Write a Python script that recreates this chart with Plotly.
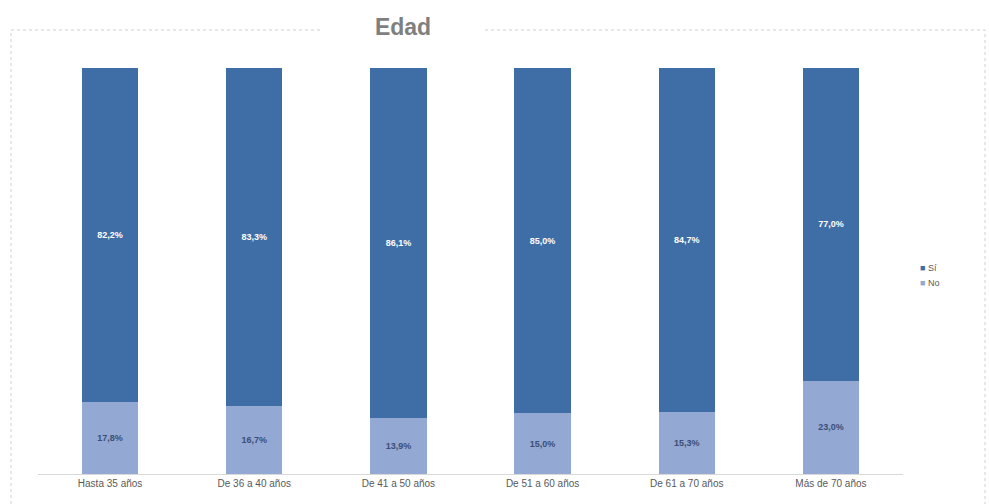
import plotly.graph_objects as go

categories = ["Hasta 35 años", "De 36 a 40 años", "De 41 a 50 años",
              "De 51 a 60 años", "De 61 a 70 años", "Más de 70 años"]
si_values = [82.2, 83.3, 86.1, 85.0, 84.7, 77.0]
no_values = [17.8, 16.7, 13.9, 15.0, 15.3, 23.0]
series_names = ["Sí", "No"]
series_colors = ["#3F6EA6", "#93A8D2"]

def fmt(v):
    return f"{v:.1f}%".replace(".", ",")

W, H = 989, 504
L, R, T, B = 38, 903, 68, 474

def px(x):
    return (x - L) / (R - L)

def py(y):
    return (B - y) / (B - T)

fig = go.Figure()
fig.add_trace(go.Bar(
    x=categories, y=no_values, name=series_names[1], showlegend=False,
    marker=dict(color=series_colors[1], line=dict(width=0)),
    text=[fmt(v) for v in no_values], texttemplate="<b>%{text}</b>",
    textposition="inside", insidetextanchor="middle", textangle=0,
    textfont=dict(color="#3B4F78", size=9, family="Liberation Sans"),
))
fig.add_trace(go.Bar(
    x=categories, y=si_values, name=series_names[0], showlegend=False,
    marker=dict(color=series_colors[0], line=dict(width=0)),
    text=[fmt(v) for v in si_values], texttemplate="<b>%{text}</b>",
    textposition="inside", insidetextanchor="middle", textangle=0,
    textfont=dict(color="#FFFFFF", size=9, family="Liberation Sans"),
))

fig.update_layout(
    width=W, height=H,
    barmode="stack", bargap=0.61,
    plot_bgcolor="white", paper_bgcolor="white",
    margin=dict(l=L, r=W - R, t=T, b=H - B),
    showlegend=False,
    font=dict(family="Liberation Sans", color="#595959"),
    xaxis=dict(showline=True, linecolor="#D9D9D9", linewidth=1,
               ticks="", tickfont=dict(size=10, color="#595959"),
               showgrid=False),
    yaxis=dict(range=[0, 100], visible=False, showgrid=False),
)

# outer border of the chart area
fig.add_shape(type="rect", xref="paper", yref="paper",
              x0=px(11), x1=px(985), y0=py(515), y1=py(30),
              line=dict(color="#D0D0D0", width=1, dash="dot"),
              fillcolor="rgba(0,0,0,0)", layer="below")

fig.add_annotation(
    text="<b>Edad</b>", xref="paper", yref="paper",
    x=px(403), y=py(27), xanchor="center", yanchor="middle",
    showarrow=False, bgcolor="white", width=160,
    font=dict(size=23, color="#7F7F7F", family="Liberation Sans"),
)

# legend as text entries
for i, (name, col) in enumerate(zip(series_names, series_colors)):
    fig.add_annotation(
        text=f"<span style='color:{col}'>■</span> {name}",
        xref="paper", yref="paper",
        x=px(918), y=py(268 + 15 * i), xanchor="left", yanchor="middle",
        showarrow=False,
        font=dict(size=9, color="#595959", family="Liberation Sans"),
    )

fig.write_html("out.html")
